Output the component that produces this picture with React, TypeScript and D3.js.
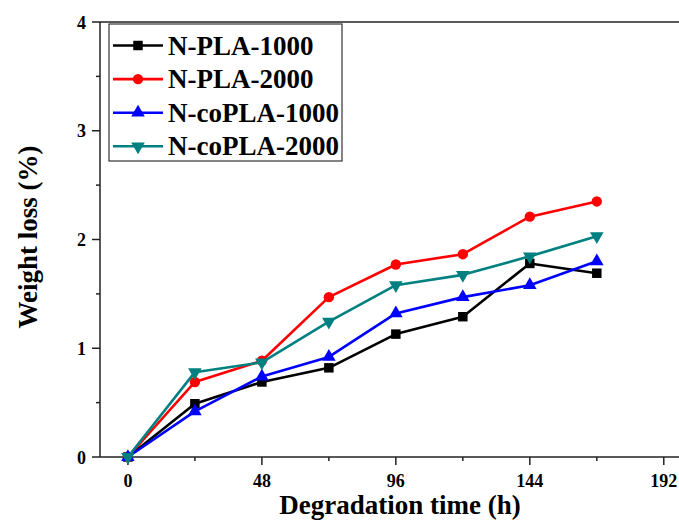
import React from "react";
import * as d3 from "d3";

const hours = [0, 24, 48, 72, 96, 120, 144, 168];
const nPla1000 = [0, 0.49, 0.69, 0.82, 1.13, 1.29, 1.78, 1.69];
const nPla2000 = [0, 0.69, 0.885, 1.47, 1.77, 1.865, 2.21, 2.35];
const nCoPla1000 = [0, 0.42, 0.74, 0.92, 1.32, 1.47, 1.58, 1.8];
const nCoPla2000 = [0, 0.78, 0.87, 1.245, 1.58, 1.675, 1.845, 2.03];

const xMajor = [0, 48, 96, 144, 192];
const xMinor = [24, 72, 120, 168];
const yMajor = [0, 1, 2, 3, 4];
const yMinor = [0.5, 1.5, 2.5, 3.5];

const series = [
  { name: "N-PLA-1000", values: nPla1000, color: "#000000", symbol: "square" },
  { name: "N-PLA-2000", values: nPla2000, color: "#ff0000", symbol: "circle" },
  { name: "N-coPLA-1000", values: nCoPla1000, color: "#0000ff", symbol: "up" },
  { name: "N-coPLA-2000", values: nCoPla2000, color: "#008080", symbol: "down" },
];

const font = "'Liberation Serif', 'Times New Roman', serif";

const Marker = ({ kind, x, y, color }) => {
  let path;
  let rot = 0;
  if (kind === "square") path = d3.symbol(d3.symbolSquare, 90)();
  else if (kind === "circle") path = d3.symbol(d3.symbolCircle, 85)();
  else {
    path = d3.symbol(d3.symbolTriangle, 80)();
    if (kind === "down") rot = 180;
  }
  return (
    <path
      d={path}
      fill={color}
      transform={`translate(${x},${y}) rotate(${rot})`}
    />
  );
};

export default function App() {
  const width = 679;
  const height = 520;
  const x = d3.scaleLinear().domain([-10, 200]).range([100, 100 + 210 * 2.791]);
  const y = d3.scaleLinear().domain([0, 4]).range([457, 22]);

  const line = d3
    .line<number>()
    .x((_, i) => x(hours[i]))
    .y((d) => y(d));

  return (
    <svg
      width={width}
      height={height}
      style={{ position: "absolute", left: 0, top: 0, background: "#fff" }}
      fontFamily={font}
      fontWeight="bold"
    >
      {/* frame: top line */}
      <line x1={x(-10)} x2={width} y1={y(4)} y2={y(4)} stroke="#222" strokeWidth={1.5} />

      {/* y axis */}
      <line x1={x(-10)} x2={x(-10)} y1={y(0)} y2={y(4)} stroke="#222" strokeWidth={1.5} />
      {yMajor.map((t) => (
        <g key={t}>
          <line x1={x(-10) - 8} x2={x(-10)} y1={y(t)} y2={y(t)} stroke="#222" strokeWidth={1.5} />
          <text x={86} y={y(t) + 6.5} textAnchor="end" fontSize={18}>
            {t}
          </text>
        </g>
      ))}
      {yMinor.map((t) => (
        <line key={t} x1={x(-10) - 4} x2={x(-10)} y1={y(t)} y2={y(t)} stroke="#222" strokeWidth={1.5} />
      ))}

      {/* x axis */}
      <line x1={x(-10)} x2={width} y1={y(0)} y2={y(0)} stroke="#222" strokeWidth={1.5} />
      {xMajor.map((t) => (
        <g key={t}>
          <line x1={x(t)} x2={x(t)} y1={y(0)} y2={y(0) + 8} stroke="#222" strokeWidth={1.5} />
          <text x={x(t)} y={487} textAnchor="middle" fontSize={18}>
            {t}
          </text>
        </g>
      ))}
      {xMinor.map((t) => (
        <line key={t} x1={x(t)} x2={x(t)} y1={y(0)} y2={y(0) + 4} stroke="#222" strokeWidth={1.5} />
      ))}

      {/* titles */}
      <text x={400} y={514} textAnchor="middle" fontSize={27}>
        Degradation time (h)
      </text>
      <text
        transform="translate(37,237) rotate(-90)"
        textAnchor="middle"
        fontSize={27}
      >
        Weight loss (%)
      </text>

      {/* series */}
      {series.map((s) => (
        <g key={s.name}>
          <path d={line(s.values)} fill="none" stroke={s.color} strokeWidth={2.6} strokeLinejoin="round" />
          {s.values.map((v, i) => (
            <Marker key={i} kind={s.symbol} x={x(hours[i])} y={y(v)} color={s.color} />
          ))}
        </g>
      ))}

      {/* legend */}
      <g>
        <rect x={109} y={24} width={233} height={137} fill="#fff" stroke="#333" strokeWidth={1.2} />
        {series.map((s, i) => {
          const cy = 45.5 + i * 33.6;
          return (
            <g key={s.name}>
              <line x1={113} x2={163} y1={cy} y2={cy} stroke={s.color} strokeWidth={2.6} />
              <Marker kind={s.symbol} x={138} y={cy} color={s.color} />
              <text x={168} y={cy + 9} fontSize={27}>
                {s.name}
              </text>
            </g>
          );
        })}
      </g>
    </svg>
  );
}
